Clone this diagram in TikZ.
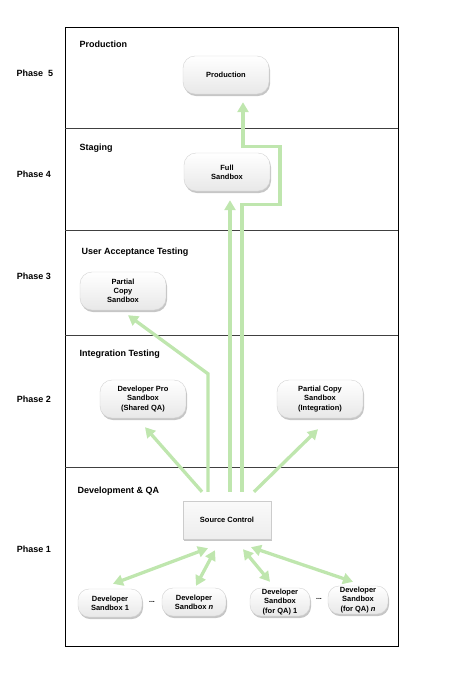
\documentclass[tikz,border=0pt]{standalone}
\usepackage{fontspec}
\setmainfont{Liberation Sans}
\usetikzlibrary{arrows.meta,shadows}

\definecolor{flowgreen}{HTML}{BFE6AE}

\begin{document}
\begin{tikzpicture}[x=1pt,y=-1pt,
  sandbox/.style={rounded corners=12pt,draw=gray!35,top color=white,bottom color=gray!18,
    drop shadow={opacity=0.45,shadow xshift=1pt,shadow yshift=-2pt},
    font=\fontsize{7.5}{9.3}\selectfont\bfseries,align=center,inner sep=1pt,
    minimum width=86pt,minimum height=38pt},
  devbox/.style={sandbox,minimum width=64pt,minimum height=28pt,rounded corners=11pt},
  repo/.style={draw=gray!40,top color=gray!4,bottom color=gray!14,
    drop shadow={opacity=0.45,shadow xshift=1pt,shadow yshift=-2pt},
    font=\fontsize{7.5}{9.3}\selectfont\bfseries,minimum width=88pt,minimum height=38pt},
  phase/.style={font=\fontsize{9}{11}\selectfont\bfseries},
  stage/.style={font=\fontsize{9}{11}\selectfont\bfseries,anchor=west},
  flow/.style={draw=flowgreen,line width=3.3pt,-{Triangle[length=10pt,width=11pt]}},
  sync/.style={flow,{Triangle[length=10pt,width=11pt]}-{Triangle[length=10pt,width=11pt]}}]
  \useasboundingbox (0,0) rectangle (450,683);

  % swim lanes
  \draw[line width=0.8pt] (65,27) rectangle (398,646);
  \foreach \y in {128,230,335,467}
    \draw[line width=0.8pt,black!75] (65,\y) -- (398,\y);

  \node[phase] (p5) at (35,73) {Phase\ \ 5};
  \node[phase] (p4) at (34,174) {Phase 4};
  \node[phase] (p3) at (34,276) {Phase 3};
  \node[phase] (p2) at (34,399) {Phase 2};
  \node[phase] (p1) at (34,549) {Phase 1};

  \node[stage] (t5) at (76,44) {Production};
  \node[stage] (t4) at (76,148) {Staging};
  \node[stage] (t3) at (78,252) {User Acceptance Testing};
  \node[stage] (t2) at (76,354) {Integration Testing};
  \node[stage] (t1) at (74,491) {Development \& QA};

  % environments
  \node[sandbox] (prod) at (226,75) {Production};
  \node[sandbox] (full) at (227,172) {Full\\Sandbox};
  \node[sandbox] (uat) at (123,291) {Partial\\Copy\\Sandbox};
  \node[sandbox] (dpro) at (143,399) {Developer Pro\\Sandbox\\(Shared QA)};
  \node[sandbox] (pci) at (320,399) {Partial Copy\\Sandbox\\(Integration)};
  \node[repo] (sc) at (227,520) {Source Control};

  \node[devbox] (dev1) at (110,603) {Developer\\Sandbox 1};
  \node[devbox] (devn) at (194,602) {Developer\\Sandbox \textit{n}};
  \node[devbox,minimum width=60pt] (qa1) at (280,602) {Developer\\Sandbox\\(for QA) 1};
  \node[devbox,minimum width=60pt] (qan) at (358,600) {Developer\\Sandbox\\(for QA) \textit{n}};
  \node[font=\fontsize{7}{9}\selectfont\bfseries] (dots1) at (152,602) {...};
  \node[font=\fontsize{7}{9}\selectfont\bfseries] (dots2) at (319,599) {...};

  % promotion paths
  \path[flow] ([xshift=-25pt,yshift=9pt]sc.north) -- ([xshift=2pt,yshift=-9pt]dpro.south);
  \path[flow] ([xshift=-19pt,yshift=9pt]sc.north) -- ++(0,-118) -- ([xshift=5pt,yshift=-5pt]uat.south);
  \path[flow] ([xshift=3pt,yshift=9pt]sc.north) -- ([xshift=3pt,yshift=-9pt]full.south);
  \path[flow] ([xshift=15pt,yshift=9pt]sc.north) -- ++(0,-287) -- ++(38,0) -- ++(0,-58)
    -- ++(-37,0) -- ([xshift=17pt,yshift=-8pt]prod.south);
  \path[flow] ([xshift=27pt,yshift=9pt]sc.north) -- ([xshift=-2pt,yshift=-11pt]pci.south);

  % check-in / check-out
  \path[sync] ([xshift=-19pt,yshift=-9pt]sc.south) -- ([xshift=3pt,yshift=5pt]dev1.north);
  \path[sync] ([xshift=-12pt,yshift=-11pt]sc.south) -- ([xshift=2pt,yshift=2pt]devn.north);
  \path[sync] ([xshift=16pt,yshift=-10pt]sc.south) -- ([xshift=-10pt,yshift=6pt]qa1.north);
  \path[sync] ([xshift=24pt,yshift=-8pt]sc.south) -- ([xshift=-5pt,yshift=4pt]qan.north);
\end{tikzpicture}
\end{document}
